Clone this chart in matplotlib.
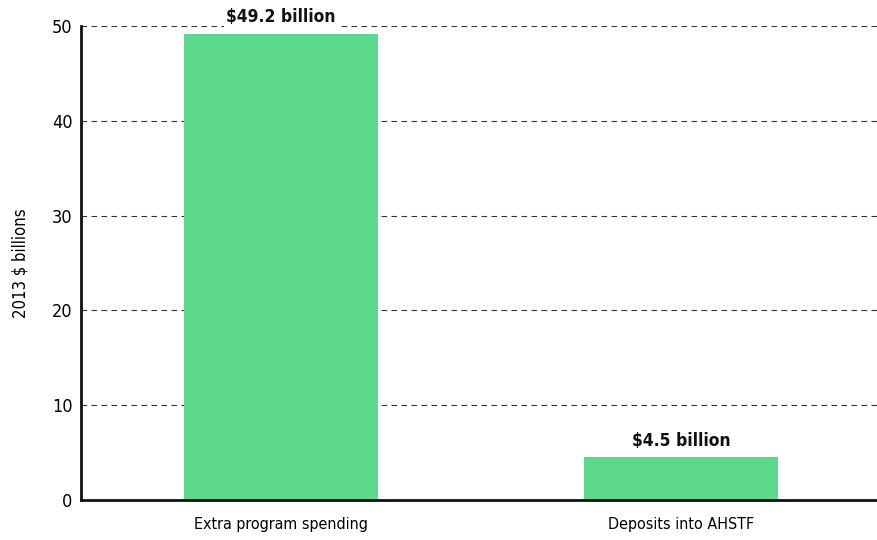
import matplotlib
matplotlib.use("Agg")
import matplotlib.pyplot as plt

categories = ["Extra program spending", "Deposits into AHSTF"]
values = [49.2, 4.5]
value_labels = ["$49.2 billion", "$4.5 billion"]
y_ticks = [0, 10, 20, 30, 40, 50]

plt.rcParams["font.family"] = ["DejaVu Sans"]
plt.rcParams["font.stretch"] = "condensed"

fig = plt.figure(figsize=(8.77, 5.40), dpi=100)
ax = fig.add_axes([0.0924, 0.074, 0.9076, 0.878])

x = list(range(len(categories)))
ax.bar(x, values, width=0.483, color="#5cd98a", zorder=2)

for xi, v, lab in zip(x, values, value_labels):
    ax.text(xi, v + 0.8, lab, ha="center", va="bottom", fontsize=12.5,
            fontweight="bold", color="#111111", zorder=4,
            bbox=dict(facecolor="white", edgecolor="none", pad=1.5))

ax.set_xlim(-0.5, 1.49)
ax.set_ylim(0, 50)
ax.set_yticks(y_ticks)
ax.set_yticklabels([str(t) for t in y_ticks], fontsize=13)
ax.set_xticks(x)
ax.set_xticklabels(categories, fontsize=11.5)
ax.tick_params(axis="both", length=0, pad=6)
ax.tick_params(axis="x", pad=12)

ax.yaxis.grid(True, linestyle=(0, (5, 4)), color="#333333", linewidth=0.8, zorder=1)
ax.set_axisbelow(True)

for side in ["top", "right"]:
    ax.spines[side].set_visible(False)
for side in ["left", "bottom"]:
    ax.spines[side].set_linewidth(2)
    ax.spines[side].set_color("#111111")

ax.set_ylabel("2013 $ billions", fontsize=12, labelpad=16)

fig.savefig("out.png", dpi=100)
